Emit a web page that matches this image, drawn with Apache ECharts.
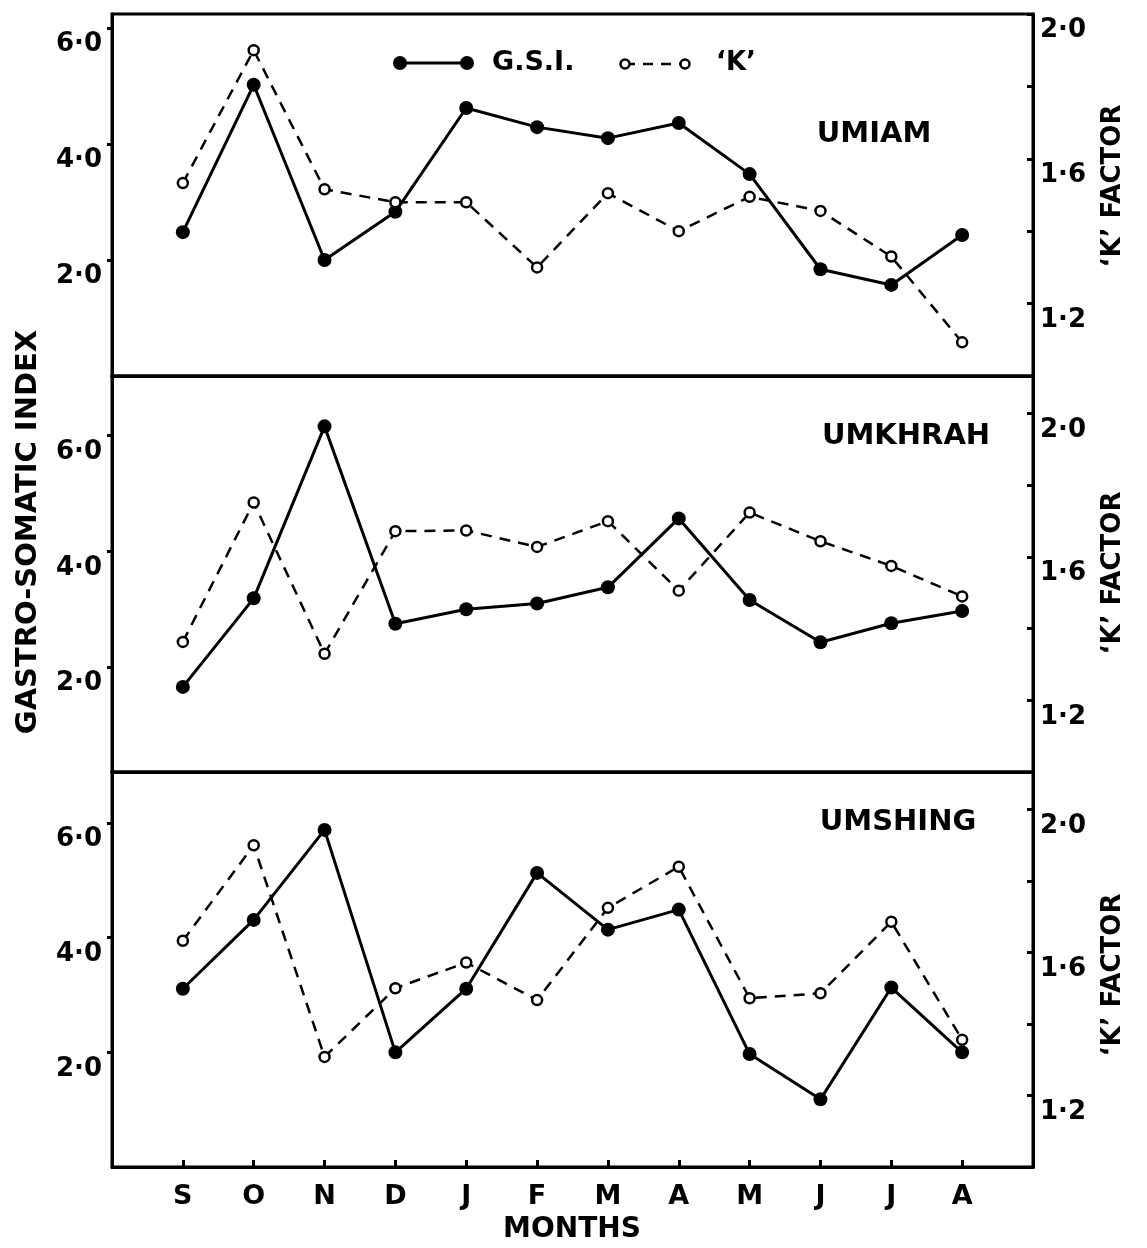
<!DOCTYPE html>
<html><head><meta charset="utf-8">
<script src="https://cdn.jsdelivr.net/npm/echarts@6/dist/echarts.min.js"></script>
<style>html,body{margin:0;padding:0;background:#fff}#c{width:1147px;height:1248px}</style>
</head><body><div id="c"></div>
<script>
const months = ['S','O','N','D','J','F','M','A','M','J','J','A'];
const sites = ['UMIAM','UMKHRAH','UMSHING'];
const gsiUmiam   = [2.48,5.02,2.00,2.83,4.62,4.29,4.10,4.36,3.48,1.84,1.57,2.43];
const kUmiam     = [1.533,1.90,1.516,1.48,1.48,1.30,1.505,1.40,1.495,1.456,1.33,1.093];
const gsiUmkhrah = [1.66,3.19,6.16,2.75,3.00,3.10,3.38,4.57,3.16,2.43,2.76,2.97];
const kUmkhrah   = [1.363,1.752,1.33,1.672,1.674,1.628,1.70,1.506,1.724,1.644,1.575,1.49];
const gsiUmshing = [3.11,4.31,5.88,2.00,3.11,5.13,4.14,4.49,1.97,1.18,3.13,2.00];
const kUmshing   = [1.633,1.90,1.308,1.50,1.572,1.467,1.725,1.84,1.472,1.486,1.686,1.356];
const gsiTickLabels = [2,4,6];
const kTickLabels = [1.2,1.6,2.0];
const kTicks = [1.2,1.4,1.6,1.8,2.0];
const gsiRanges = [[0,6.24],[0.19,7.03],[0,6.89]];
const kRanges = [[1.0,2.0],[1.0,2.105],[1.0,2.105]];

const gsiAll = [gsiUmiam, gsiUmkhrah, gsiUmshing];
const kAll = [kUmiam, kUmkhrah, kUmshing];
const monthIdx = months.map((m,i)=>i);

const FONT = '"DejaVu Sans", sans-serif';
const fmt = v => v.toFixed(1).replace('.', '\u00B7');

const panels = [{top:14,bottom:376},{top:376,bottom:772},{top:772,bottom:1167}];
const grids = panels.map(p => ({left:112, width:921, top:p.top, height:p.bottom-p.top,
  show:true, borderColor:'#000', borderWidth:3, containLabel:false}));

const xAxes = panels.map((p,i) => ({
  type:'value', gridIndex:i, min:-1, max:12, position:'bottom',
  splitLine:{show:false},
  axisLine:{show:true, onZero:false, lineStyle:{color:'#000', width:3}},
  axisTick:{show:i===2, inside:true, length:7, lineStyle:{color:'#000', width:3}, customValues: monthIdx},
  axisLabel:{show:i===2, customValues: monthIdx, margin:16,
    formatter: v => (Number.isInteger(v) && v>=0 && v<months.length) ? months[v] : '',
    color:'#000', fontFamily:FONT, fontWeight:'bold', fontSize:27}
}));

const yAxes = [];
panels.forEach((p,i) => {
  yAxes.push({
    type:'value', gridIndex:i, position:'left', min:gsiRanges[i][0], max:gsiRanges[i][1],
    splitLine:{show:false},
    axisLine:{show:true, onZero:false, lineStyle:{color:'#000', width:3}},
    axisTick:{show:true, inside:false, length:5, customValues:gsiTickLabels, lineStyle:{color:'#000', width:3}},
    axisLabel:{show:true, customValues:gsiTickLabels, margin:10, verticalAlign:'top', lineHeight:33,
      formatter: v => gsiTickLabels.indexOf(Math.round(v*100)/100) >= 0 ? fmt(v) : '',
      color:'#000', fontFamily:FONT, fontWeight:'bold', fontSize:26}
  });
  yAxes.push({
    type:'value', gridIndex:i, position:'right', min:kRanges[i][0], max:kRanges[i][1],
    splitLine:{show:false},
    axisLine:{show:true, onZero:false, lineStyle:{color:'#000', width:3}},
    axisTick:{show:true, inside:true, length:6, customValues:kTicks, lineStyle:{color:'#000', width:3}},
    axisLabel:{show:true, customValues:kTickLabels, margin:7, verticalAlign:'top', lineHeight:33,
      formatter: v => kTickLabels.indexOf(Math.round(v*100)/100) >= 0 ? fmt(v) : '',
      color:'#000', fontFamily:FONT, fontWeight:'bold', fontSize:26}
  });
});

const series = [];
panels.forEach((p,i) => {
  series.push({
    name:'G.S.I.', type:'line', xAxisIndex:i, yAxisIndex:2*i,
    data: gsiAll[i].map((v,j)=>[j,v]),
    symbol:'circle', symbolSize:14,
    lineStyle:{color:'#000', width:3, type:'solid'},
    itemStyle:{color:'#000'}, z:3
  });
  series.push({
    name:"'K'", type:'line', xAxisIndex:i, yAxisIndex:2*i+1,
    data: kAll[i].map((v,j)=>[j,v]),
    symbol:'circle', symbolSize:10,
    lineStyle:{color:'#000', width:2.5, type:[11,8]},
    itemStyle:{color:'#fff', borderColor:'#000', borderWidth:2.5}, z:4
  });
});

const txt = (text, x, y, size, rot, align) => ({
  type:'text', x:x, y:y, rotation:rot||0, z:10,
  style:{text:text, fill:'#000', font:'bold '+size+'px '+FONT,
    textAlign:align||'center', textVerticalAlign:'middle', align:align||'center', verticalAlign:'middle'}
});

const graphic = [
  // legend
  {type:'line', shape:{x1:400,y1:63,x2:467,y2:63}, style:{stroke:'#000', lineWidth:3}, z:10},
  {type:'circle', shape:{cx:400,cy:63,r:7}, style:{fill:'#000'}, z:10},
  {type:'circle', shape:{cx:467,cy:63,r:7}, style:{fill:'#000'}, z:10},
  txt('G.S.I.', 492, 63, 27, 0, 'left'),
  {type:'line', shape:{x1:625,y1:64,x2:685,y2:64}, style:{stroke:'#000', lineWidth:2.5, lineDash:[10,8]}, z:10},
  {type:'circle', shape:{cx:625,cy:64,r:4.5}, style:{fill:'#fff', stroke:'#000', lineWidth:2.5}, z:11},
  {type:'circle', shape:{cx:685,cy:64,r:4.5}, style:{fill:'#fff', stroke:'#000', lineWidth:2.5}, z:11},
  txt('\u2018K\u2019', 716, 63, 26, 0, 'left'),
  // panel titles
  txt(sites[0], 874, 134, 29),
  txt(sites[1], 906, 436, 29),
  txt(sites[2], 898, 822, 29),
  // axis titles
  txt('GASTRO-SOMATIC INDEX', 28, 532, 29, Math.PI/2),
  txt('\u2018K\u2019 FACTOR', 1113, 186, 26, Math.PI/2),
  txt('\u2018K\u2019 FACTOR', 1113, 573, 26, Math.PI/2),
  txt('\u2018K\u2019 FACTOR', 1113, 975, 26, Math.PI/2),
  txt('MONTHS', 572, 1230, 28)
];

const chart = echarts.init(document.getElementById('c'), null, {renderer:'canvas'});
chart.setOption({
  animation:false,
  backgroundColor:'#fff',
  grid:grids, xAxis:xAxes, yAxis:yAxes, series:series, graphic:graphic
});
</script>
</body></html>
